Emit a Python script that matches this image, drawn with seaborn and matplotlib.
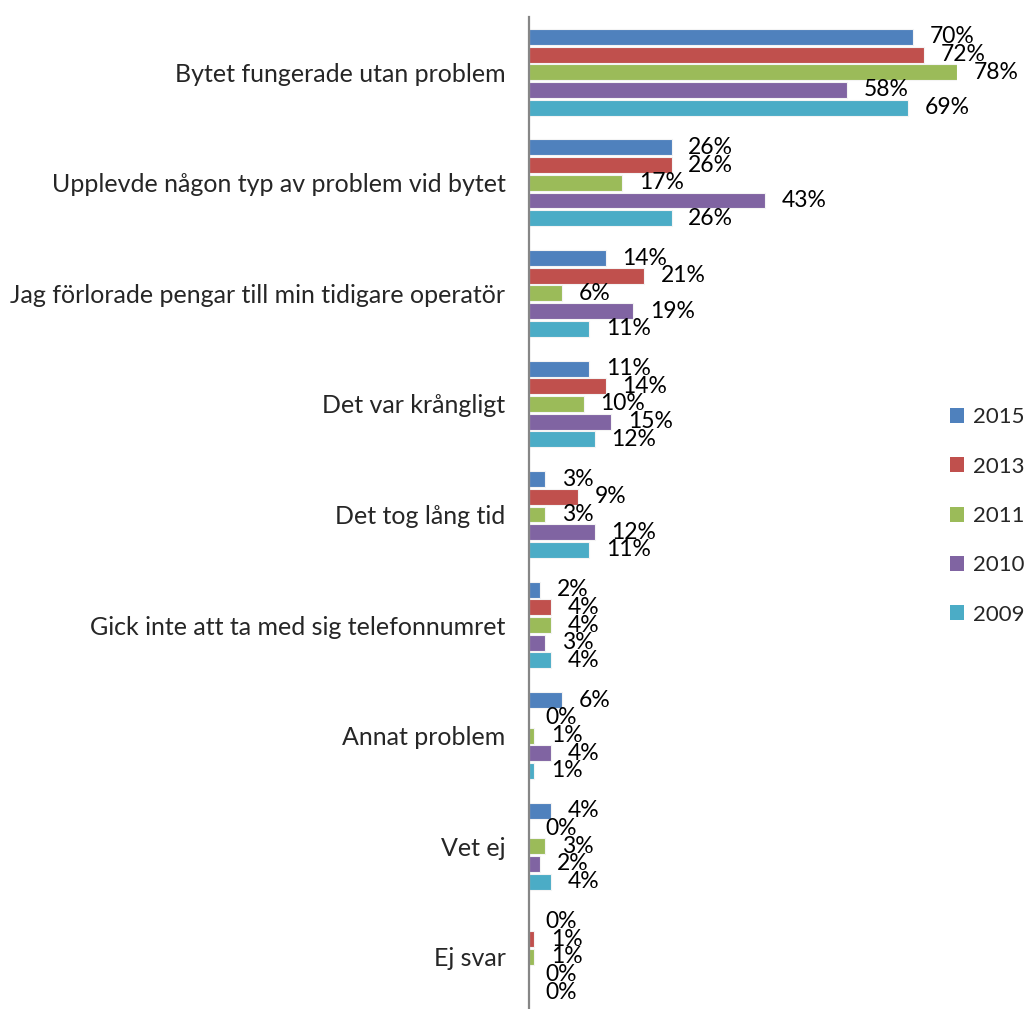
import matplotlib
matplotlib.use("Agg")
import matplotlib.pyplot as plt
import seaborn as sns
import pandas as pd
from matplotlib.patches import Patch

categories = [
    "Bytet fungerade utan problem",
    "Upplevde någon typ av problem vid bytet",
    "Jag förlorade pengar till min tidigare operatör",
    "Det var krångligt",
    "Det tog lång tid",
    "Gick inte att ta med sig telefonnumret",
    "Annat problem",
    "Vet ej",
    "Ej svar",
]
years = ["2015", "2013", "2011", "2010", "2009"]
v2015 = [70, 26, 14, 11, 3, 2, 6, 4, 0]
v2013 = [72, 26, 21, 14, 9, 4, 0, 0, 1]
v2011 = [78, 17, 6, 10, 3, 4, 1, 3, 1]
v2010 = [58, 43, 19, 15, 12, 3, 4, 2, 0]
v2009 = [69, 26, 11, 12, 11, 4, 1, 4, 0]
colors = ["#4F81BD", "#C0504D", "#9BBB59", "#8064A2", "#4BACC6"]

series = [v2015, v2013, v2011, v2010, v2009]
df = pd.DataFrame(
    [(c, y, v) for y, vals in zip(years, series) for c, v in zip(categories, vals)],
    columns=["kategori", "år", "andel"],
)

sns.set_style("white")
plt.rcParams["font.family"] = ["Lato", "DejaVu Sans"]

fig = plt.figure(figsize=(10.27, 10.09), dpi=100)
ax = fig.add_axes([529 / 1027, -3 / 1009, 428 / 1027, 995 / 1009])

sns.barplot(
    data=df, x="andel", y="kategori", hue="år", order=categories,
    hue_order=years, palette=colors, orient="h", width=0.8, gap=0.1,
    edgecolor="#f4f4f4", linewidth=0.8, saturation=1, legend=False, ax=ax,
)

for cont in ax.containers:
    ax.bar_label(cont, fmt="%.0f%%", padding=12, fontsize=16.5, color="black",
                 clip_on=False)

ax.set_xlim(0, 78)
ax.set_ylim(8.5, -0.5)
ax.set_xlabel("")
ax.set_ylabel("")
ax.set_xticks([])
for s in ["top", "right", "bottom"]:
    ax.spines[s].set_visible(False)
ax.spines["left"].set_color("#868686")
ax.spines["left"].set_linewidth(1.6)

ax.set_yticks(range(len(categories)))
ax.set_yticklabels(categories, fontsize=18)
ax.tick_params(axis="y", which="major", length=0, pad=17)
ax.set_yticks([i - 0.5 for i in range(len(categories) + 1)], minor=True)
ax.tick_params(axis="y", which="minor", length=6, width=1.6, color="#868686")

handles = [Patch(facecolor=c, edgecolor="none") for c in colors]
fig.legend(handles, years, loc="center left", bbox_to_anchor=(950 / 1027, 1 - 516 / 1009),
           frameon=False, fontsize=16, handlelength=0.65, handleheight=0.65,
           handletextpad=0.4, labelspacing=1.32, borderpad=0, borderaxespad=0)

fig.savefig("out.png", dpi=100)
